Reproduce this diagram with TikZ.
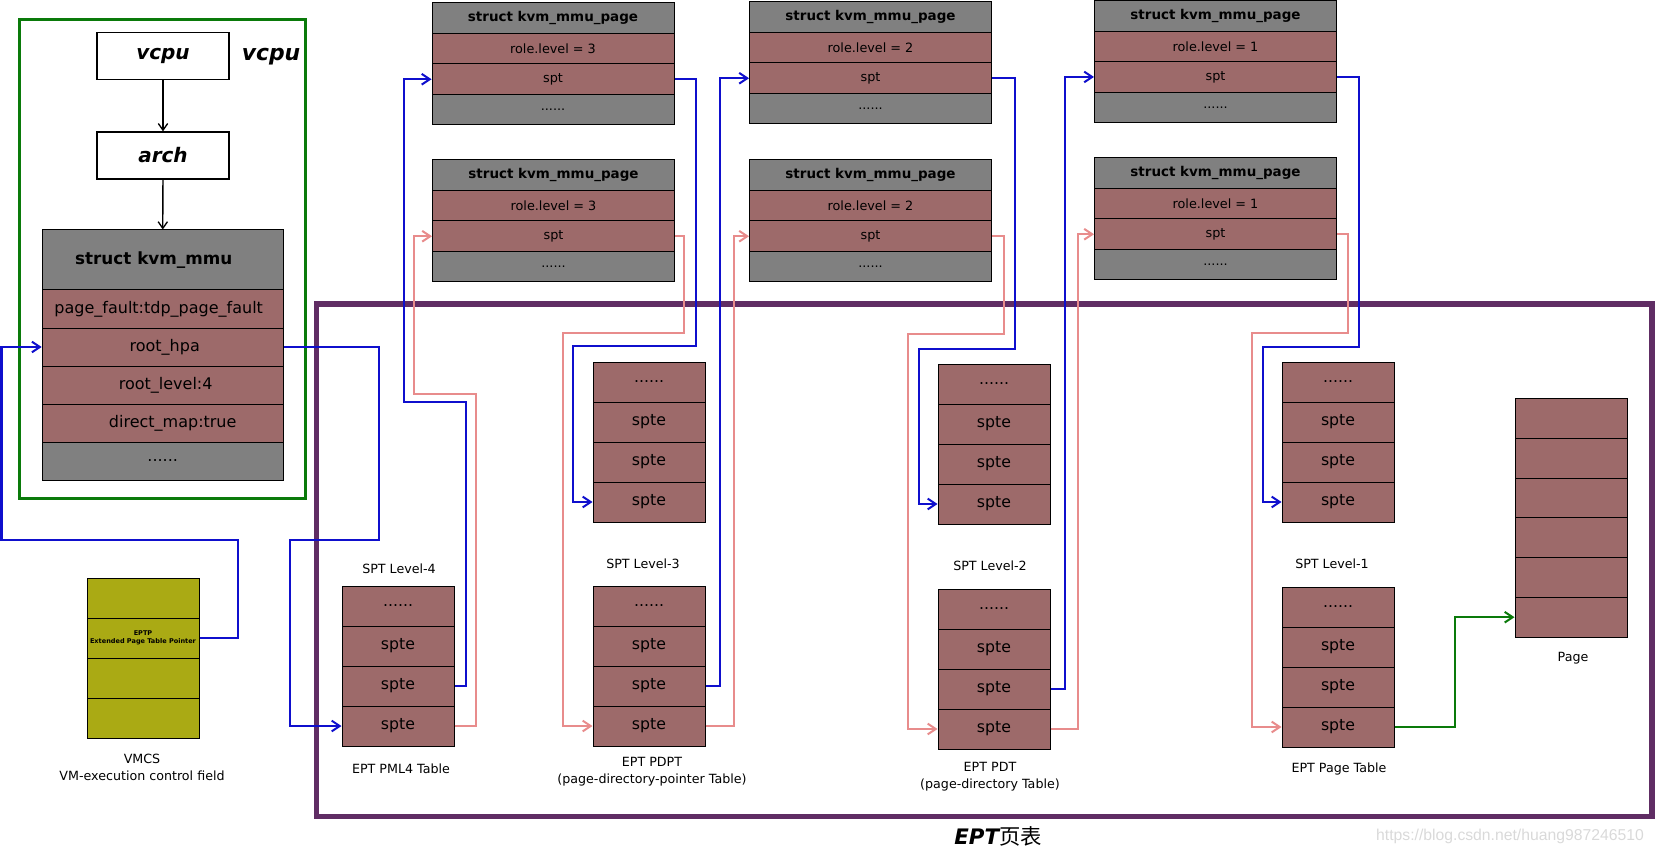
\documentclass[tikz,border=0pt]{standalone}
\usepackage{fontspec}
\setmainfont{DejaVu Sans}
\newfontfamily\cjk{Noto Sans CJK SC}
\newfontfamily\webfont{Liberation Sans}
\usetikzlibrary{arrows.meta}
\newcommand*{\PX}{0.75pt}
\newcommand*{\MoreDots}{......}
\definecolor{spterose}{RGB}{157,106,106}
\definecolor{boxgray}{RGB}{128,128,128}
\definecolor{vmcsolive}{RGB}{170,170,20}
\definecolor{linkblue}{RGB}{15,15,205}
\definecolor{linkpink}{RGB}{232,140,140}
\definecolor{vcpugreen}{RGB}{10,122,10}
\definecolor{eptpurple}{RGB}{96,45,100}

\begin{document}
\begin{tikzpicture}
	[x=\PX, y=-\PX,
	 ptecell/.style={draw, line width=0.75pt, fill=spterose, minimum width=112*\PX, minimum height=40*\PX, inner sep=0pt, font=\fontsize{11.8}{14}\selectfont},
	 vmcscell/.style={ptecell, fill=vmcsolive, align=center, font=\bfseries\fontsize{4.9}{6}\selectfont},
	 mmucell/.style={ptecell, minimum width=241*\PX, minimum height=38*\PX, font=\fontsize{12}{14}\selectfont},
	 mmuhead/.style={mmucell, fill=boxgray, minimum height=60*\PX, font=\bfseries\fontsize{12.6}{14}\selectfont},
	 pagecell/.style={ptecell, minimum width=242*\PX, minimum height=30.5*\PX, font=\fontsize{9.6}{11}\selectfont},
	 pagehead/.style={pagecell, fill=boxgray, font=\bfseries\fontsize{10.1}{12}\selectfont},
	 namebox/.style={draw, line width=1pt, fill=white, minimum width=132*\PX, minimum height=47*\PX, inner sep=0pt, font=\bfseries\itshape\fontsize{15}{17}\selectfont},
	 tablename/.style={align=center, font=\fontsize{9.5}{12.4}\selectfont},
	 ptrlink/.style={line width=1.5pt, -{Straight Barb[length=6pt,width=8pt]}},
	 hostlink/.style={ptrlink, draw=linkblue},
	 guestlink/.style={ptrlink, draw=linkpink},
	 pagelink/.style={ptrlink, draw=vcpugreen}];

	\useasboundingbox (0,0) rectangle (1656,852);

	%Frames
	\draw[line width=2.5pt, draw=vcpugreen] (19.7,19.7) rectangle (305.5,498.3);
	\draw[line width=4pt, draw=eptpurple] (316.5,304) rectangle (1652,816.5);

	%vcpu
	\node[namebox] (vcpu) at (163,56) {vcpu};
	\node[namebox] (arch) at (163,155.5) {arch};
	\node[font=\bfseries\itshape\fontsize{16.4}{18}\selectfont] (vcpu-label) at (271,57) {vcpu};
	\node[mmuhead] (mmu-head) at (162.7,260) {\hspace*{-13.5pt}struct kvm\_mmu};
	\foreach \t/\key/\dx [count=\i] in {page\_fault:tdp\_page\_fault/fault/-6, root\_hpa/hpa/3, root\_level:4/level/4.5, direct\_map:true/map/15}
	{
		\node[mmucell] (mmu-\key) at (162.7,{290+38*\i-19}) {\hspace*{\dx pt}\t};
	}
	\node[mmucell, fill=boxgray] (mmu-more) at (162.7,461) {\MoreDots};
	\draw[line width=1pt, -{Straight Barb[length=5pt,width=7pt]}] (vcpu) -- (arch);
	\draw[line width=1pt, -{Straight Barb[length=5pt,width=7pt]}] (arch) -- (mmu-head);

	%VMCS
	\foreach \t [count=\i] in {{}, {EPTP\\Extended Page Table Pointer}, {}, {}}
	{
		\node[vmcscell] (vmcs-\i) at (143,{578+40*\i-20}) {\t};
	}
	\node[tablename] (vmcs-name) at (142,767.5) {VMCS\\VM-execution control field};

	%kvm_mmu_page
	\foreach \name/\x/\y/\lvl in {l3a/553/3/3, l3b/553.5/160/3, l2a/870.5/2/2, l2b/870.5/160/2, l1a/1215.5/0.7/1, l1b/1215.5/158/1}
	{
		\node[pagehead] (\name-head) at (\x,{\y+15.25}) {struct kvm\_mmu\_page};
		\node[pagecell] (\name-role) at (\x,{\y+45.75}) {role.level = \lvl};
		\node[pagecell] (\name-spt) at (\x,{\y+76.25}) {spt};
		\node[pagecell, fill=boxgray] (\name-more) at (\x,{\y+106.75}) {\MoreDots};
	}

	%spte tables
	\foreach \name/\x/\y in {pml4/398/586, spt3/649/362, pdpt/649/586, spt2/994/364, pdt/994/589, spt1/1338/362, pt/1338/587}
	{
		\foreach \t [count=\i] in {\MoreDots, spte, spte, spte}
		{
			\node[ptecell] (\name-\i) at (\x,{\y+40*\i-20}) {\t};
		}
	}
	\foreach \i in {1,2,3,4,5,6}
	{
		\node[ptecell] (page-\i) at (1571,{399+39.67*\i-19.83}) {};
	}

	%table names
	\node[tablename] (spt4-name) at (399,569) {SPT Level-4};
	\node[tablename] (pml4-name) at (401,769) {EPT PML4 Table};
	\node[tablename] (spt3-name) at (643,564) {SPT Level-3};
	\node[tablename] (pdpt-name) at (652,771.5) {EPT PDPT\\(page-directory-pointer Table)};
	\node[tablename] (spt2-name) at (990,565.5) {SPT Level-2};
	\node[tablename] (pdt-name) at (990,776.5) {EPT PDT\\(page-directory Table)};
	\node[tablename] (spt1-name) at (1332,564) {SPT Level-1};
	\node[tablename] (pt-name) at (1339,769) {EPT Page Table};
	\node[tablename] (page-name) at (1573,658) {Page};
	\node[font=\fontsize{16}{18}\selectfont] (ept-title) at (998,836) {{\bfseries\itshape EPT}{\cjk 页表}};
	\node[text=gray!30, font=\webfont\fontsize{11.8}{14}\selectfont] (watermark) at (1510,836) {https://blog.csdn.net/huang987246510};

	%links
	\draw[hostlink] (vmcs-2.east) -| (238,540) -| (1.5,347) -- (mmu-hpa.west);
	\draw[hostlink] (mmu-hpa.east) -| (379,540) -| (290,726) -- (pml4-4.west);
	\draw[hostlink] (pml4-3.east) -| (466,401.5) -- (404,401.5) |- (l3a-spt.west);
	\draw[guestlink] (pml4-4.east) -| (476,393.5) -- (414,393.5) |- (l3b-spt.west);
	\draw[hostlink] (l3a-spt.east) -| (696,346) -- (573,346) |- (spt3-4.west);
	\draw[guestlink] (l3b-spt.east) -| (684,333) -- (563,333) |- (pdpt-4.west);
	\draw[hostlink] (pdpt-3.east) -- ++(14,0) |- (l2a-spt.west);
	\draw[guestlink] (pdpt-4.east) -- ++(28,0) |- (l2b-spt.west);
	\draw[hostlink] (l2a-spt.east) -| (1015,349) -- (919,349) |- (spt2-4.west);
	\draw[guestlink] (l2b-spt.east) -| (1004,334) -- (908,334) |- (pdt-4.west);
	\draw[hostlink] (pdt-3.east) -- ++(14,0) |- (l1a-spt.west);
	\draw[guestlink] (pdt-4.east) -- ++(27,0) |- (l1b-spt.west);
	\draw[hostlink] (l1a-spt.east) -| (1359,347) -- (1263,347) |- (spt1-4.west);
	\draw[guestlink] (l1b-spt.east) -| (1348,333) -- (1252,333) |- (pt-4.west);
	\draw[pagelink] (pt-4.east) -- ++(60,0) |- (page-6.west);
\end{tikzpicture}
\end{document}
